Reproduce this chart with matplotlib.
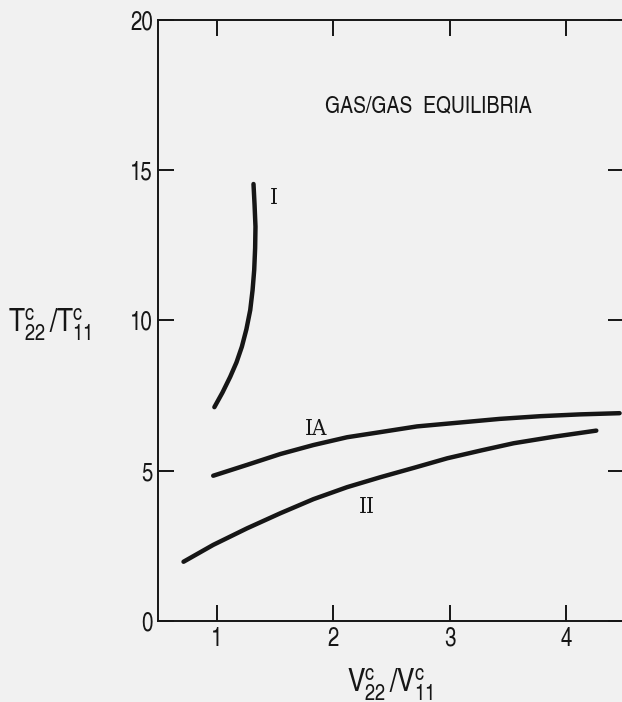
import matplotlib
matplotlib.use('Agg')
import matplotlib.pyplot as plt

# curve data (V22/V11, T22/T11)
curve_i_x = [0.98, 1.05, 1.116, 1.17, 1.216, 1.255, 1.288, 1.308, 1.322, 1.33, 1.333, 1.325, 1.316]
curve_i_y = [7.11, 7.60, 8.12, 8.60, 9.12, 9.70, 10.34, 11.00, 11.67, 12.40, 13.11, 13.85, 14.53]

curve_ia_x = [0.97, 1.26, 1.545, 1.83, 2.12, 2.405, 2.72, 3.09, 3.43, 3.78, 4.12, 4.46]
curve_ia_y = [4.83, 5.19, 5.55, 5.85, 6.11, 6.28, 6.47, 6.60, 6.72, 6.81, 6.87, 6.91]

curve_ii_x = [0.715, 0.97, 1.26, 1.545, 1.83, 2.12, 2.405, 2.70, 2.98, 3.27, 3.55, 3.90, 4.26]
curve_ii_y = [1.97, 2.53, 3.08, 3.58, 4.05, 4.45, 4.78, 5.10, 5.41, 5.67, 5.91, 6.13, 6.33]

curve_labels = ['I', 'IA', 'II']
label_pos = [(1.491, 14.08), (1.857, 6.37), (2.29, 3.80)]

xticks = [1, 2, 3, 4]
yticks = [0, 5, 10, 15, 20]

cond = 'TeX Gyre Heros Cn'
plt.rcParams['font.family'] = [cond, 'DejaVu Sans']
plt.rcParams['mathtext.fontset'] = 'custom'
plt.rcParams['mathtext.rm'] = cond
plt.rcParams['mathtext.it'] = cond
plt.rcParams['mathtext.bf'] = cond

bg = '#f1f1f1'
ink = '#161616'

fig = plt.figure(figsize=(6.22, 7.02), dpi=100, facecolor=bg)
ax = fig.add_axes([0.2548, 0.1154, 0.7488, 0.8568], facecolor=bg)

for xs, ys in [(curve_i_x, curve_i_y), (curve_ia_x, curve_ia_y), (curve_ii_x, curve_ii_y)]:
    ax.plot(xs, ys, color=ink, linewidth=3.2, solid_capstyle='round', solid_joinstyle='round')

for lab, (lx, ly) in zip(curve_labels, label_pos):
    ax.text(lx, ly, lab, fontsize=16, family='DejaVu Serif', fontstretch='condensed',
            color=ink, ha='center', va='center')

ax.text(2.82, 17.13, 'GAS/GAS  EQUILIBRIA', fontsize=17, color=ink, ha='center', va='center')

ax.set_xlim(0.5, 4.5)
ax.set_ylim(0, 20)
ax.set_xticks(xticks)
ax.set_yticks(yticks)
ax.tick_params(direction='in', length=11.5, width=1.4, colors=ink, labelsize=18,
               top=True, right=True, pad=4)
for side in ['left', 'bottom', 'top']:
    ax.spines[side].set_linewidth(1.4)
    ax.spines[side].set_color(ink)
ax.spines['right'].set_visible(False)

ax.set_xlabel(r'$\mathregular{V_{22}^{c}\,/V_{11}^{c}}$', fontsize=23, color=ink,
              va='center')
ax.xaxis.set_label_coords(0.497, -0.106)
ax.set_ylabel(r'$\mathregular{T_{22}^{c}\,/T_{11}^{c}}$', fontsize=23, color=ink,
              rotation=0, ha='center', va='center')
ax.yaxis.set_label_coords(-0.233, 0.493)

fig.savefig('out.png', dpi=100, facecolor=bg)
